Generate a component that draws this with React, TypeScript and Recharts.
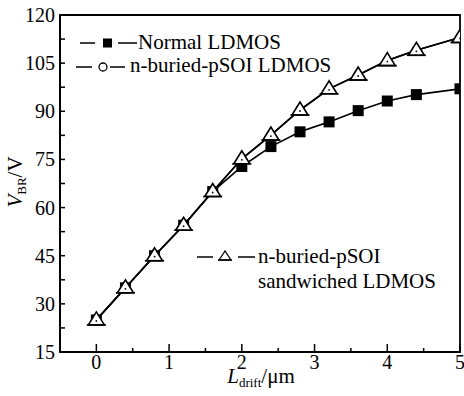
import { LineChart, Line, XAxis, YAxis, ReferenceArea } from 'recharts';

const FONT = '"Liberation Serif", "Times New Roman", Tinos, FreeSerif, serif';

// drift length (um) and breakdown voltage (V)
const LDRIFT = [0, 0.4, 0.8, 1.2, 1.6, 2.0, 2.4, 2.8, 3.2, 3.6, 4.0, 4.4, 5.0];
const NORMAL = [25, 35, 45, 54.5, 65, 72.8, 79, 83.6, 86.7, 90.2, 93.2, 95.2, 97];
const PSOI = [25, 35, 45, 54.5, 65, 75.2, 82.6, 90.4, 97, 101.3, 105.8, 109, 113];
const SANDWICHED = [25, 35, 45, 54.5, 65, 75.2, 82.6, 90.4, 97, 101.3, 105.8, 109, 113];

const X_TICKS = [0, 0.5, 1, 1.5, 2, 2.5, 3, 3.5, 4, 4.5, 5];
const Y_TICKS = [15, 22.5, 30, 37.5, 45, 52.5, 60, 67.5, 75, 82.5, 90, 97.5, 105, 112.5, 120];

const data = LDRIFT.map((x, i) => ({
  x,
  normal: NORMAL[i],
  psoi: PSOI[i],
  sandwiched: SANDWICHED[i],
}));

const CSS = `
.vbr-chart, .vbr-chart svg, .vbr-chart text, .vbr-chart tspan {
  font-family: ${FONT} !important;
}
`;

function XTick({ x, y, payload }: any) {
  const major = Number.isInteger(payload.value);
  return (
    <g>
      <line x1={x} x2={x} y1={y} y2={y - (major ? 8 : 4)} stroke="#000" strokeWidth={1.5} />
      {major && (
        <text x={x} y={y + 17} textAnchor="middle" fontSize={20} fill="#000">
          {payload.value}
        </text>
      )}
    </g>
  );
}

function YTick({ x, y, payload }: any) {
  const major = payload.value % 15 === 0;
  return (
    <g>
      <line x1={x} x2={x + 5} y1={y} y2={y} stroke="#000" strokeWidth={1.5} />
      {major && (
        <text x={x - 5} y={y + 7} textAnchor="end" fontSize={20} fill="#000">
          {payload.value}
        </text>
      )}
    </g>
  );
}

const SquareDot = (props: any) => {
  const { cx, cy, index } = props;
  if (cx == null || cy == null) return <g key={`sq-${index}`} />;
  return <rect key={`sq-${index}`} x={cx - 5.5} y={cy - 5.5} width={11} height={11} fill="#000" />;
};

const CircleDot = (props: any) => {
  const { cx, cy, index } = props;
  if (cx == null || cy == null) return <g key={`ci-${index}`} />;
  return <circle key={`ci-${index}`} cx={cx} cy={cy} r={4} fill="#fff" stroke="#000" strokeWidth={1.5} />;
};

const TriangleDot = (props: any) => {
  const { cx, cy, index } = props;
  if (cx == null || cy == null) return <g key={`tr-${index}`} />;
  return (
    <g key={`tr-${index}`}>
      <path
        d={`M${cx},${cy - 8} L${cx - 8},${cy + 5} L${cx + 8},${cy + 5} Z`}
        fill="#fff"
        stroke="#000"
        strokeWidth={1.6}
      />
      <line x1={cx - 9.5} x2={cx + 9.5} y1={cy + 5} y2={cy + 5} stroke="#000" strokeWidth={1.6} />
      <circle cx={cx} cy={cy + 1} r={0.9} fill="#000" />
    </g>
  );
};

function Overlay() {
  return (
    <svg
      width={464}
      height={396}
      style={{ position: 'absolute', left: 0, top: 0, pointerEvents: 'none' }}
    >
      {/* y label */}
      <text transform="translate(22,182) rotate(-90)" textAnchor="middle" fontSize={21} fill="#000">
        <tspan fontStyle="italic">V</tspan>
        <tspan fontSize={13} dy={4}>BR</tspan>
        <tspan dy={-4}>/V</tspan>
      </text>
      {/* x label */}
      <text x={261} y={383} textAnchor="middle" fontSize={21} fill="#000">
        <tspan fontStyle="italic">L</tspan>
        <tspan fontSize={13} dy={4}>drift</tspan>
        <tspan dy={-4}>/μm</tspan>
      </text>

      {/* legend */}
      <g stroke="#000" strokeWidth={1.5}>
        <line x1={80} x2={95} y1={43} y2={43} />
        <line x1={118} x2={137} y1={43} y2={43} />
        <line x1={76} x2={92} y1={67} y2={67} />
        <line x1={110} x2={125} y1={67} y2={67} />
        <line x1={197} x2={213} y1={257} y2={257} />
        <line x1={238} x2={255} y1={257} y2={257} />
      </g>
      <rect x={103} y={38.5} width={9} height={9} fill="#000" />
      <circle cx={103} cy={67} r={4} fill="#fff" stroke="#000" strokeWidth={1.3} />
      <path d="M225,251 L219,260 L231,260 Z" fill="#fff" stroke="#000" strokeWidth={1.3} />
      <line x1={218} x2={232} y1={260} y2={260} stroke="#000" strokeWidth={1.3} />

      <text x={138} y={49} fontSize={21} fill="#000">Normal LDMOS</text>
      <text x={130} y={72} fontSize={21} fill="#000">n-buried-pSOI LDMOS</text>
      <text x={258} y={263} fontSize={21} fill="#000">n-buried-pSOI</text>
      <text x={258} y={288} fontSize={21} fill="#000">sandwiched LDMOS</text>
    </svg>
  );
}

export default function App() {
  return (
    <div
      className="vbr-chart"
      style={{ position: 'absolute', left: 0, top: 0, width: 464, height: 396, background: '#fff', fontFamily: FONT }}
    >
      <style>{CSS}</style>
      <LineChart width={464} height={396} data={data} margin={{ top: 15, right: 4, bottom: 0, left: 0 }}>
        <XAxis
          dataKey="x"
          type="number"
          domain={[-0.5, 5]}
          ticks={X_TICKS}
          interval={0}
          height={44}
          tickSize={0}
          tickMargin={0}
          tickLine={false}
          tick={<XTick />}
          axisLine={{ stroke: '#000', strokeWidth: 1.8 }}
          allowDataOverflow
        />
        <YAxis
          type="number"
          domain={[15, 120]}
          ticks={Y_TICKS}
          interval={0}
          width={60}
          tickSize={0}
          tickMargin={0}
          tickLine={false}
          tick={<YTick />}
          axisLine={{ stroke: '#000', strokeWidth: 1.8 }}
          allowDataOverflow
        />
        <ReferenceArea x1={-0.5} x2={5} y1={15} y2={120} fill="none" stroke="#000" strokeWidth={1.8} />
        <Line
          dataKey="normal"
          stroke="#000"
          strokeWidth={1.6}
          dot={SquareDot}
          isAnimationActive={false}
        />
        <Line
          dataKey="psoi"
          stroke="#000"
          strokeWidth={1.6}
          dot={CircleDot}
          isAnimationActive={false}
        />
        <Line
          dataKey="sandwiched"
          stroke="#000"
          strokeWidth={1.6}
          dot={TriangleDot}
          isAnimationActive={false}
        />
      </LineChart>
      <Overlay />
    </div>
  );
}
